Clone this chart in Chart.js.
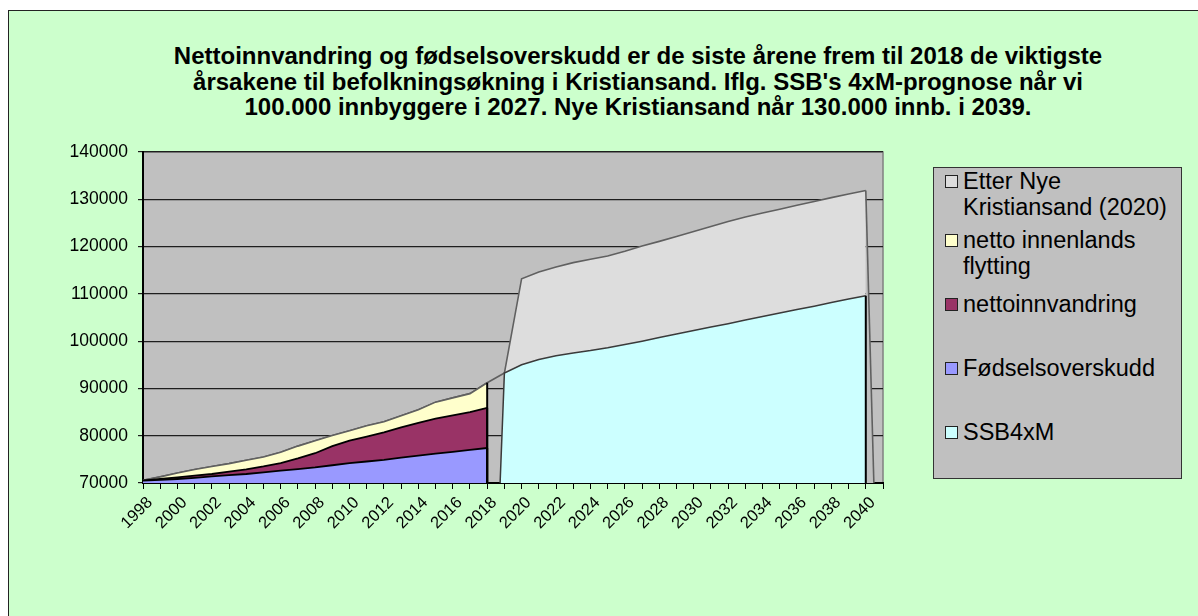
<!DOCTYPE html>
<html><head><meta charset="utf-8">
<script src="https://cdn.jsdelivr.net/npm/chart.js@4.4.0/dist/chart.umd.min.js"></script>
<style>
html,body{margin:0;padding:0;background:#fff;}
body{width:1198px;height:616px;position:relative;overflow:hidden;font-family:"Liberation Sans",Arial,sans-serif;}
#frame{position:absolute;left:8px;top:10px;width:1200px;height:620px;background:#CCFFCC;border:1px solid #222;}
#title{position:absolute;left:138px;width:1000px;top:43px;text-align:center;font-weight:bold;font-size:24px;line-height:25.5px;color:#000;}
#chartwrap{position:absolute;left:0;top:0;width:1198px;height:616px;}
#legend{position:absolute;left:933px;top:167px;width:249px;height:312px;background:#C0C0C0;border:1px solid #333;box-sizing:border-box;}
.item{position:absolute;left:0;width:247px;font-size:23.5px;line-height:26px;color:#000;}
.sw{position:absolute;left:11px;top:7px;width:11px;height:11px;border:1px solid #222;}
.tx{position:absolute;left:29px;width:215px;}
</style></head>
<body>
<div id="frame"></div>
<div id="title">Nettoinnvandring og fødselsoverskudd er de siste årene frem til 2018 de viktigste<br>årsakene til befolkningsøkning i Kristiansand. Iflg. SSB's 4xM-prognose når vi<br>100.000 innbyggere i 2027. Nye Kristiansand når 130.000 innb. i 2039.</div>
<div id="chartwrap"><canvas id="c" width="1198" height="616"></canvas></div>
<div id="legend"></div>
<script>
// ---- data ----
const years = ['1998','1999','2000','2001','2002','2003','2004','2005','2006','2007','2008','2009','2010','2011','2012','2013','2014','2015','2016','2017','2018','2019','2020','2021','2022','2023','2024','2025','2026','2027','2028','2029','2030','2031','2032','2033','2034','2035','2036','2037','2038','2039','2040','2041'];

const ssb4xm = [null,null,null,null,null,null,null,null,null,null,null,null,null,null,null,null,null,null,null,null,
  0,93250,95000,96100,96900,97500,98000,98600,99300,100000,100750,101500,102250,103000,103700,104450,105200,105950,106700,107400,108150,108900,109600,null];

const fodselsoverskudd = [70500,70650,70850,71100,71400,71650,71900,72250,72600,72950,73300,73750,74200,74550,74900,75350,75800,76200,76600,77000,77400,
  null,null,null,null,null,null,null,null,null,null,null,null,null,null,null,null,null,null,null,null,null,null,null];

const nettoinnvandring = [0,200,350,450,500,750,1000,1250,1600,2250,3000,4050,4750,5250,5800,6400,6900,7400,7700,8000,8500,
  null,null,null,null,null,null,null,null,null,null,null,null,null,null,null,null,null,null,null,null,null,null,null];

const nettoInnenlandsFlytting = [50,450,900,1300,1600,1700,1900,2000,2300,2600,2650,2250,2100,2300,2250,2450,2800,3500,3700,3900,5300,
  null,null,null,null,null,null,null,null,null,null,null,null,null,null,null,null,null,null,null,null,null,null,null];

const etterNyeKristiansand = [0,0,0,0,0,0,0,0,0,0,0,0,0,0,0,0,0,0,0,0,0,0,
  18200,18500,18800,19100,19300,19400,19700,20100,20350,20650,20950,21250,21600,21800,21900,21950,22050,22150,22200,22200,22250,0];

const seriesNames = ['SSB4xM','Fødselsoverskudd','nettoinnvandring','netto innenlands flytting','Etter Nye Kristiansand (2020)'];
const yTicks = [70000,80000,90000,100000,110000,120000,130000,140000];

// ---- styles ----
const fillColors = ['#CCFFFF','#9999FF','#993366','#FFFFCC','#DDDDDD'];
const lineColors = ['#3a3a3a','#000000','#000000','#606060','#606060'];
const edgeColors = ['#000000','#000000','#000000','#000000',null];

const bgPlugin = {
  id:'plotbg',
  beforeDraw(chart){
    const {ctx, chartArea:a} = chart;
    ctx.save();
    ctx.fillStyle = '#C0C0C0';
    ctx.fillRect(a.left, a.top, a.right-a.left, a.bottom-a.top);
    ctx.strokeStyle = '#808080'; ctx.lineWidth = 1.5;
    ctx.strokeRect(a.left, a.top, a.right-a.left, a.bottom-a.top);
    ctx.restore();
  }
};
const edgePlugin = {
  id:'edges',
  afterDatasetsDraw(chart){
    const {ctx, chartArea:a} = chart;
    ctx.save();
    ctx.beginPath(); ctx.rect(a.left, a.top, a.right-a.left, a.bottom-a.top); ctx.clip();
    chart.data.datasets.forEach((ds, di) => {
      if (!ds.edgeColor) return;
      const meta = chart.getDatasetMeta(di);
      ds.data.forEach((v, i) => {
        if (v === null) return;
        const nx = ds.data[i+1];
        if (nx === null) {
          const pt = meta.data[i];
          ctx.strokeStyle = ds.edgeColor; ctx.lineWidth = 2;
          ctx.beginPath(); ctx.moveTo(pt.x, pt.y); ctx.lineTo(pt.x, a.bottom); ctx.stroke();
        }
      });
    });
    ctx.restore();
  }
};

const allData = [ssb4xm, fodselsoverskudd, nettoinnvandring, nettoInnenlandsFlytting, etterNyeKristiansand];
const fills = ['origin','origin','-1','-1','origin'];
const datasets = allData.map((d, i) => {
  const ds = {
    label: seriesNames[i], data: d,
    backgroundColor: fillColors[i], borderColor: lineColors[i],
    borderWidth: i===0 ? 1.5 : (i<3 ? 1.8 : 1.6),
    fill: fills[i], pointRadius: 0, tension: 0, spanGaps: false,
    edgeColor: edgeColors[i]
  };
  if (i === 4) {
    ds.segment = {
      backgroundColor: ctx => ctx.p1DataIndex <= 21 ? 'rgba(0,0,0,0)' : (ctx.p0DataIndex >= 42 ? '#C0C0C0' : fillColors[4])
    };
  }
  return ds;
});

new Chart(document.getElementById('c'), {
  type:'line',
  data:{labels: years, datasets},
  options:{
    responsive:false, animation:false,
    layout:{padding:{left:0, top:152, right:315, bottom:0}},
    plugins:{legend:{display:false}, tooltip:{enabled:false}, title:{display:false}},
    scales:{
      x:{
        offset:false,
        grid:{drawOnChartArea:false, drawTicks:true, tickLength:6, color:'#000', lineWidth:1},
        border:{display:true, color:'#000', width:2},
        ticks:{autoSkip:false, maxRotation:45, minRotation:45, color:'#000', padding:4, labelOffset:7,
          font:{family:'"Liberation Sans", Arial, sans-serif', size:16.5},
          callback(value){ const l = this.getLabelForValue(value); return (+l % 2 === 0) ? l : ''; }},
        afterFit(s){ s.height = 133; }
      },
      y:{
        stacked:true, min: yTicks[0], max: yTicks[yTicks.length-1],
        afterBuildTicks(s){ s.ticks = yTicks.map(v => ({value:v})); },
        grid:{color:'#1e1e1e', lineWidth:1.2, tickLength:5, drawTicks:true},
        border:{display:true, color:'#000', width:2},
        ticks:{color:'#000', padding:10, font:{family:'"Liberation Sans", Arial, sans-serif', size:17.5},
          callback: v => String(v)},
        afterFit(s){ s.width = 143; }
      }
    }
  },
  plugins:[bgPlugin, edgePlugin]
});

// ---- HTML legend (reverse stacking order, like the original) ----
const legendTops = [0, 59, 123, 187, 251];
const leg = document.getElementById('legend');
[4,3,2,1,0].forEach((si, k) => {
  const it = document.createElement('div');
  it.className = 'item'; it.style.top = legendTops[k] + 'px';
  const sw = document.createElement('div'); sw.className = 'sw'; sw.style.background = fillColors[si];
  const tx = document.createElement('div'); tx.className = 'tx'; tx.textContent = seriesNames[si];
  it.appendChild(sw); it.appendChild(tx); leg.appendChild(it);
});
</script>
</body></html>
